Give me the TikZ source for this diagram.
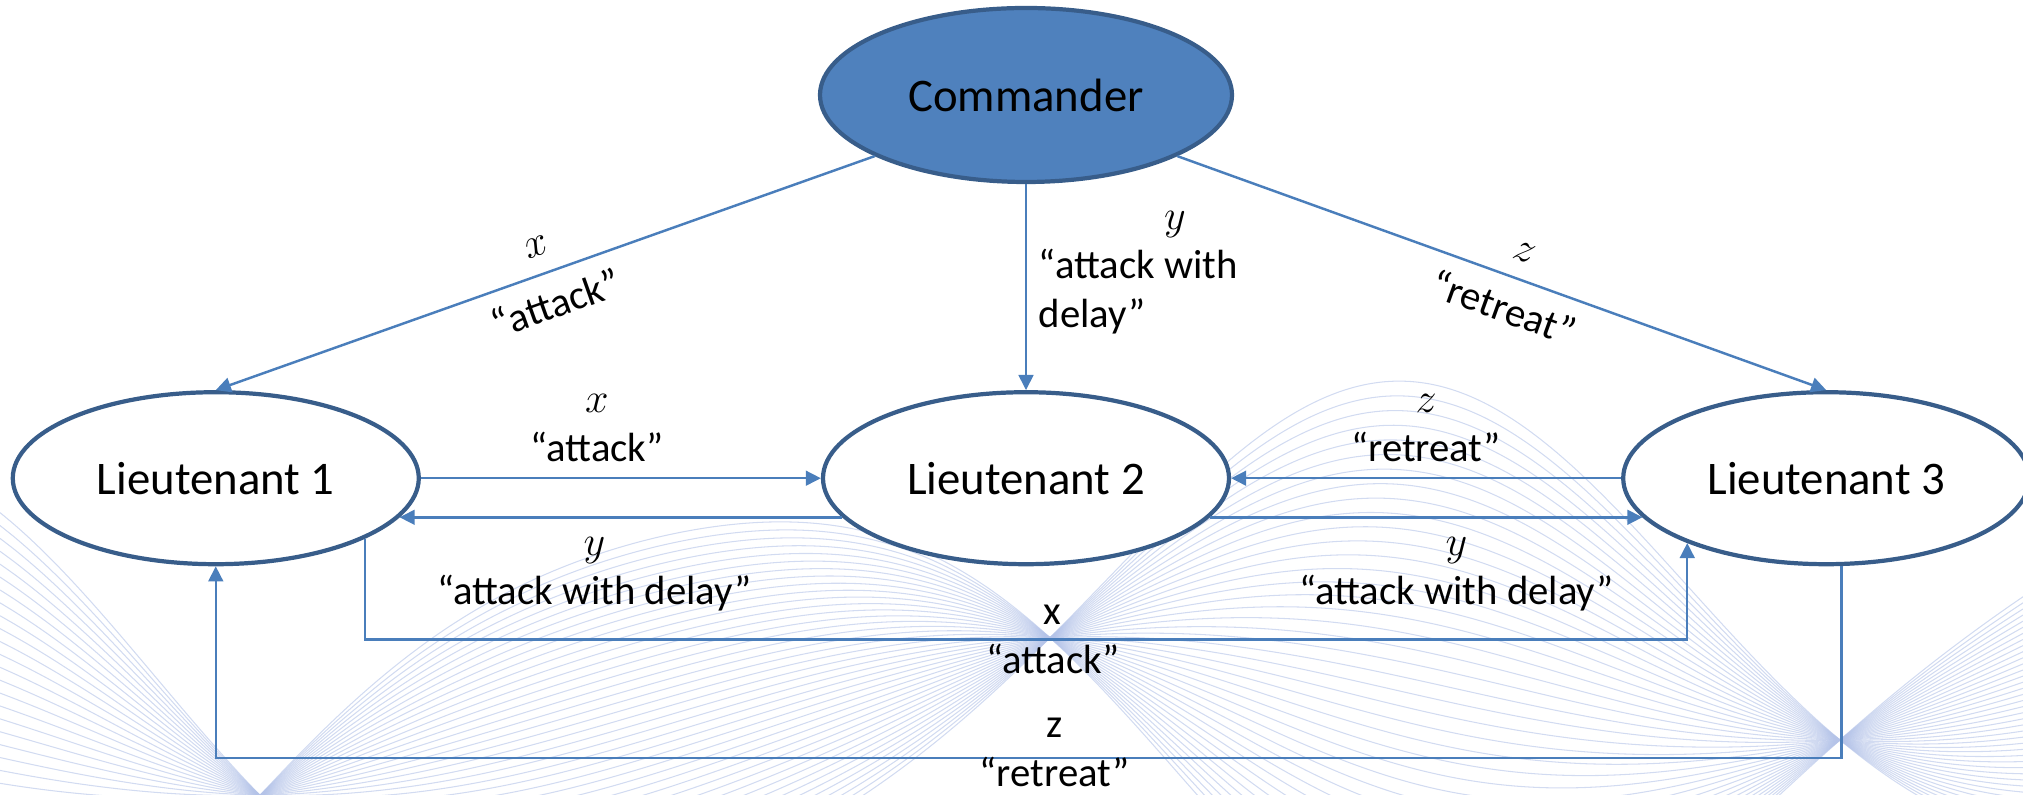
\documentclass[tikz,border=0pt]{standalone}
\usepackage{fontspec}
\setmainfont{Carlito}
\usetikzlibrary{arrows.meta,positioning,shapes.geometric}

\definecolor{linkblue}{HTML}{4A7EBB}
\definecolor{rimblue}{HTML}{385D8A}
\definecolor{cmdfill}{HTML}{4F81BD}
\definecolor{wavecol}{HTML}{B4C3E8}

\begin{document}
\begin{tikzpicture}[>={Triangle[length=4.3pt,width=4.2pt]},
  general/.style={draw=rimblue, line width=1.2pt, ellipse, inner sep=0pt,
    minimum width=4.06cm, minimum height=1.72cm, font=\fontsize{13.3}{16}\selectfont},
  lieut/.style={general, fill=white},
  msg/.style={->, draw=linkblue, line width=0.7pt},
  lbl/.style={font=\fontsize{11.6}{14}\selectfont, align=center, text=black},
  wave/.style={draw=wavecol, line width=0.3pt, opacity=0.6}]
  \useasboundingbox (0,0) rectangle (20.23,-7.95);

  % background ribbon
  \begin{scope}
    \clip (0,0) rectangle (20.23,-7.95);
    \foreach \t in {-1,-0.95,...,1.01}
      \draw[wave] plot[domain=0:20.23, samples=140, smooth]
        (\x, {-(7.3+0.65*cos(180*(\x-2.7)/7.9)-0.035*(\x-2.7)
          -\t*(2.4+0.6*cos(360*\x/14))*sin(180*(\x-10.5)/7.9))});
  \end{scope}

  % generals
  \node[general, fill=cmdfill, minimum width=4.12cm, minimum height=1.74cm] (cmd) at (10.26,-0.95) {Commander};
  \node[lieut, below=2.06cm of cmd] (l2) {Lieutenant 2};
  \node[lieut, left=4.0cm of l2] (l1) {Lieutenant 1};
  \node[lieut, right=3.9cm of l2] (l3) {Lieutenant 3};

  % orders from the commander
  \draw[msg] (cmd.202) -- node[lbl, sloped, above=1.5pt, pos=0.5] {$x$} node[lbl, sloped, below=1pt, pos=0.5] {“attack”} (l1.north);
  \draw[msg] (cmd.south) -- node[lbl, right, pos=0.43, align=left] {\hphantom{“attack }$y$\\“attack with\\delay”} (l2.north);
  \draw[msg] (cmd.-22) -- node[lbl, sloped, above=1.5pt, pos=0.52] {$z$} node[lbl, sloped, below=1pt, pos=0.52] {“retreat”} (l3.north);

  % relayed orders
  \draw[msg] (l1.east) -- node[lbl, above=1pt, pos=0.44] {$x$\\“attack”} (l2.west);
  \draw[msg] (l2.192) -- node[lbl, below=2pt, pos=0.56] {$y$\\“attack with delay”} (l1.-12);
  \draw[msg] (l3.west) -- node[lbl, above=1pt, pos=0.5] {$z$\\“retreat”} (l2.east);
  \draw[msg] (l2.-12) -- node[lbl, below=2pt, pos=0.57] {$y$\\“attack with delay”} (l3.192);

  \draw[msg] (l1.-22) -- ++(0,-1.01) -| node[lbl, pos=0.26] {x\\“attack”} (l3.205);
  \draw[msg] (l3.-80) -- ++(0,-1.92) -| node[lbl, pos=0.242, yshift=1.5pt] {z\\“retreat”} (l1.south);
\end{tikzpicture}
\end{document}
